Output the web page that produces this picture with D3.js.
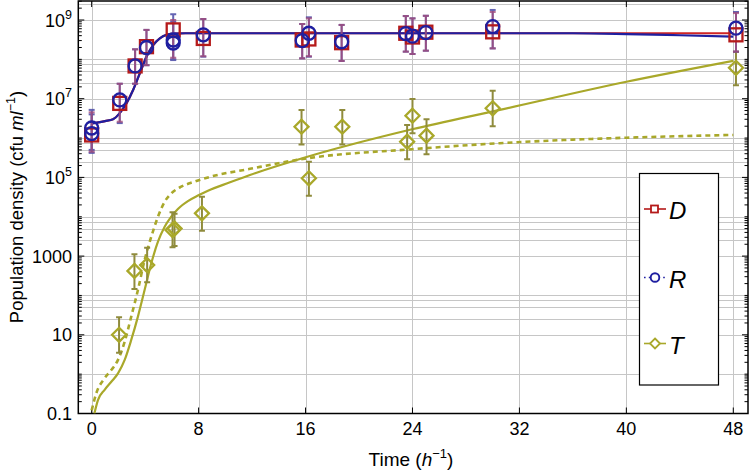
<!DOCTYPE html>
<html><head><meta charset="utf-8">
<script src="https://cdn.jsdelivr.net/npm/d3@7"></script>
<style>body{margin:0;background:#fff}svg{display:block}text{font-family:"Liberation Sans",Arial,sans-serif}</style>
</head><body><svg id="c" width="750" height="471"></svg>
<script>
// ---- data ----
const xTicks = [0, 8, 16, 24, 32, 40, 48];
const yTickVals = [0.1, 10, 1000, 1e5, 1e7, 1e9];
const yTickBase = ["0.1", "10", "1000", "10", "10", "10"];
const yTickSup = ["", "", "", "5", "7", "9"];
const gridYVals = [2.5e9, 1e9, 1e8, 7.5e7, 5e7, 2.5e7, 1e7, 1e6, 7.5e5, 5e5, 2.5e5, 1e5, 1e4, 7.5e3, 5e3, 2.5e3, 1e3, 100, 75, 50, 25, 10, 1];

// D (squares)
const dTime = [0, 2.1, 3.25, 4.1, 6.1, 8.35, 15.75, 16.25, 18.7, 23.5, 24.0, 25.0, 30.0, 48.2];
const dVal  = [1.2e6, 7.6e6, 6.8e7, 2.1e8, 5.6e8, 3.4e8, 3.1e8, 3.3e8, 2.65e8, 4.6e8, 3.7e8, 4.9e8, 5.0e8, 4.2e8];
const dLo   = [4.5e5, 2.6e6, 2.4e7, 7.1e7, 1.1e8, 1.2e8, 1.06e8, 1.2e8, 9.1e7, 1.57e8, 1.37e8, 1.66e8, 1.9e8, 1.57e8];
const dHi   = [4.5e6, 2.4e7, 1.8e8, 5.6e8, 1.0e9, 1.06e9, 7.9e8, 1.1e9, 7.5e8, 1.26e9, 1.1e9, 1.28e9, 1.6e9, 1.5e9];

// R (circles)
const rTime = [0, 0, 2.1, 3.25, 4.1, 6.1, 6.1, 8.35, 15.75, 16.25, 18.7, 23.5, 24.0, 25.0, 30.0, 48.2];
const rVal  = [1.8e6, 1.3e6, 9.3e6, 6.8e7, 2.0e8, 3.1e8, 2.6e8, 4.2e8, 3.0e8, 4.6e8, 2.8e8, 4.5e8, 3.9e8, 4.8e8, 6.8e8, 6.2e8];
const rLo   = [4.2e5, 5e5, 2.4e6, 2.4e7, 7.1e7, 9.6e7, 1e8, 1.17e8, 1.06e8, 1.17e8, 9.1e7, 1.57e8, 1.37e8, 1.66e8, 1.9e8, 1.57e8];
const rHi   = [5.2e6, 4e6, 2.4e7, 1.8e8, 5.6e8, 1.4e9, 9e8, 1.06e9, 7.9e8, 1.17e9, 7.5e8, 1.26e9, 1.1e9, 1.28e9, 1.8e9, 1.6e9];

// T (diamonds)
const tTime = [2.05, 3.2, 4.15, 6.05, 6.2, 8.25, 15.7, 16.25, 18.75, 23.6, 24.0, 25.05, 30.0, 48.2];
const tVal  = [10, 420, 590, 4600, 5000, 1.22e4, 1.94e6, 9.5e4, 1.94e6, 8.1e5, 3.7e6, 1.15e6, 5.7e6, 6.1e7];
const tLo   = [3.5, 146, 216, 1675, 1800, 4400, 6.9e5, 3.4e4, 6.9e5, 2.9e5, 1.32e6, 3.9e5, 2.0e6, 2.2e7];
const tHi   = [28, 1110, 1630, 1.3e4, 1.2e4, 3.2e4, 5.2e6, 2.5e5, 5.2e6, 2.15e6, 9.8e6, 3.0e6, 1.6e7, 1.57e8];

// fitted curves
const fitDTime = [0, 0.5, 1, 1.6, 2.1, 2.6, 3.1, 3.6, 4.1, 4.6, 5.1, 5.6, 6.1, 7, 8, 20, 36, 48];
const fitDVal  = [2.35e6, 2.5e6, 2.7e6, 3.0e6, 4.3e6, 7.6e6, 1.66e7, 4.4e7, 1.17e8, 2.3e8, 3.4e8, 4.2e8, 4.5e8, 4.6e8, 4.6e8, 4.6e8, 4.6e8, 4.6e8];
const fitRTime = [0, 0.5, 1, 1.6, 2.1, 2.6, 3.1, 3.6, 4.1, 4.6, 5.1, 5.6, 6.1, 7, 8, 20, 36, 40, 44, 48];
const fitRVal  = [2.35e6, 2.5e6, 2.7e6, 3.0e6, 4.3e6, 7.6e6, 1.66e7, 4.4e7, 1.17e8, 2.3e8, 3.4e8, 4.2e8, 4.5e8, 4.6e8, 4.6e8, 4.6e8, 4.6e8, 4.4e8, 4.1e8, 3.8e8];
const fitTSolidTime = [0.2, 0.47, 0.97, 1.47, 1.97, 2.47, 2.96, 3.46, 3.96, 4.46, 4.96, 5.46, 5.95, 6.45, 7.2, 7.95, 8.7, 10.3, 11.84, 15.95, 23.97, 30.53, 40, 48];
const fitTSolidVal  = [0.1, 0.22, 0.40, 0.64, 1.05, 2.3, 7.4, 29, 137, 656, 2320, 5580, 1.0e4, 1.58e4, 2.5e4, 3.45e4, 4.6e4, 7.4e4, 1.15e5, 3.2e5, 1.67e6, 5.2e6, 2.7e7, 9.2e7];
const fitTDashTime = [0, 0.35, 0.97, 1.47, 1.97, 2.47, 2.96, 3.46, 3.96, 4.46, 4.96, 5.46, 5.95, 6.7, 7.7, 8.7, 11.84, 15.95, 23.95, 30.53, 40, 48];
const fitTDashVal  = [0.12, 0.33, 0.79, 1.27, 2.3, 6.7, 29, 137, 794, 3110, 1e4, 2.4e4, 3.9e4, 5.8e4, 7.8e4, 1.0e5, 1.65e5, 3.0e5, 5.2e5, 7.4e5, 1.02e6, 1.2e6];

const legendNames = ["D", "R", "T"];

// ---- chart ----
const svg = d3.select("#c");
const L = 78.3, R = 748, T = 1, B = 413.5;
const x = d3.scaleLinear().domain([-1, 49.1]).range([L, R]);
const y = d3.scaleLog().domain([0.1, 3.04e9]).range([B, T]);

const cRed = "#b51a1a", cBlue = "#1f1fa0", cOlive = "#a9a82a", cOliveBar = "#8f8b3c";

svg.append("defs").append("clipPath").attr("id", "clip")
  .append("rect").attr("x", L).attr("y", T).attr("width", R - L).attr("height", B - T);

// grid
const grid = svg.append("g").attr("stroke", "#c6c6c6").attr("stroke-width", 1);
gridYVals.forEach(v => grid.append("line").attr("x1", L).attr("x2", R)
  .attr("y1", Math.round(y(v)) + 0.5).attr("y2", Math.round(y(v)) + 0.5));
xTicks.forEach(v => grid.append("line").attr("y1", T).attr("y2", B)
  .attr("x1", Math.round(x(v)) + 0.5).attr("x2", Math.round(x(v)) + 0.5));

// ticks
const ticks = svg.append("g").attr("stroke", "#000").attr("stroke-width", 1);
const minorY = [];
for (let k = -1; k <= 9; k++) {
  for (let j = 1; j <= 9; j++) {
    const v = j * Math.pow(10, k);
    if (v < 0.1 || v > 3.04e9) continue;
    if (j === 1 && yTickVals.some(t => Math.abs(t - v) / v < 1e-6)) continue;
    minorY.push(v);
  }
}
yTickVals.forEach(v => {
  ticks.append("line").attr("x1", L).attr("x2", L + 6).attr("y1", y(v)).attr("y2", y(v));
  ticks.append("line").attr("x1", R).attr("x2", R - 6).attr("y1", y(v)).attr("y2", y(v));
});
minorY.forEach(v => {
  ticks.append("line").attr("x1", L).attr("x2", L + 3.5).attr("y1", y(v)).attr("y2", y(v));
  ticks.append("line").attr("x1", R).attr("x2", R - 3.5).attr("y1", y(v)).attr("y2", y(v));
});
xTicks.forEach(v => {
  ticks.append("line").attr("x1", x(v)).attr("x2", x(v)).attr("y1", B).attr("y2", B - 6);
  ticks.append("line").attr("x1", x(v)).attr("x2", x(v)).attr("y1", T).attr("y2", T + 6);
});

// frame
svg.append("rect").attr("x", L).attr("y", T).attr("width", R - L).attr("height", B - T)
  .attr("fill", "none").attr("stroke", "#000").attr("stroke-width", 1.5);

// tick labels
xTicks.forEach(v => svg.append("text").attr("x", x(v)).attr("y", 434.5).attr("text-anchor", "middle")
  .attr("font-size", 18).text(v));
yTickVals.forEach((v, i) => {
  const t = svg.append("text").attr("x", 72).attr("y", y(v) + 6.5).attr("text-anchor", "end").attr("font-size", 18);
  t.append("tspan").text(yTickBase[i]);
  if (yTickSup[i]) t.append("tspan").attr("font-size", 12.5).attr("dy", -8).text(yTickSup[i]);
});

// axis titles
const xt = svg.append("text").attr("x", 411).attr("y", 466).attr("text-anchor", "middle").attr("font-size", 19);
xt.append("tspan").text("Time (");
xt.append("tspan").attr("font-style", "italic").text("h");
xt.append("tspan").attr("font-size", 13).attr("dy", -8).text("\u22121");
xt.append("tspan").attr("dy", 8).text(")");

const yt = svg.append("text").attr("transform", "translate(23,207) rotate(-90)").attr("text-anchor", "middle").attr("font-size", 18.5);
yt.append("tspan").text("Population density (cfu ");
yt.append("tspan").attr("font-style", "italic").text("ml");
yt.append("tspan").attr("font-size", 12.5).attr("dy", -8).text("\u22121");
yt.append("tspan").attr("dy", 8).text(")");

// curves
const plot = svg.append("g").attr("clip-path", "url(#clip)");
const line = d3.line().x(d => x(d[0])).y(d => y(d[1])).curve(d3.curveMonotoneX);
const zipP = (a, b) => a.map((v, i) => [v, b[i]]);
plot.append("path").attr("d", line(zipP(fitTDashTime, fitTDashVal))).attr("fill", "none")
  .attr("stroke", cOlive).attr("stroke-width", 2.6).attr("stroke-dasharray", "5,4");
plot.append("path").attr("d", line(zipP(fitTSolidTime, fitTSolidVal))).attr("fill", "none")
  .attr("stroke", cOlive).attr("stroke-width", 2.2);
plot.append("path").attr("d", line(zipP(fitDTime, fitDVal))).attr("fill", "none")
  .attr("stroke", "#d02424").attr("stroke-width", 2.2);
plot.append("path").attr("d", line(zipP(fitRTime, fitRVal))).attr("fill", "none")
  .attr("stroke", cBlue).attr("stroke-width", 2.2);

// error bars
function errBars(times, lo, hi, color, op) {
  const g = plot.append("g").attr("stroke", color).attr("stroke-width", 2).attr("opacity", op);
  times.forEach((t, i) => {
    const cx = x(t);
    g.append("line").attr("x1", cx).attr("x2", cx).attr("y1", y(lo[i])).attr("y2", y(hi[i]));
    g.append("line").attr("x1", cx - 3).attr("x2", cx + 3).attr("y1", y(lo[i])).attr("y2", y(lo[i]));
    g.append("line").attr("x1", cx - 3).attr("x2", cx + 3).attr("y1", y(hi[i])).attr("y2", y(hi[i]));
  });
}
errBars(tTime, tLo, tHi, cOliveBar, 1);
errBars(rTime, rLo, rHi, "#4a4aa6", 0.85);
errBars(dTime, dLo, dHi, "#a24a7a", 0.8);

// markers
const mk = plot.append("g").attr("fill", "none");
tTime.forEach((t, i) => {
  const cx = x(t), cy = y(tVal[i]), h = 7;
  mk.append("path").attr("d", `M${cx},${cy - h}L${cx + h},${cy}L${cx},${cy + h}L${cx - h},${cy}Z`)
    .attr("stroke", cOlive).attr("stroke-width", 2.3);
});
dTime.forEach((t, i) => {
  mk.append("rect").attr("x", x(t) - 6.5).attr("y", y(dVal[i]) - 6.5).attr("width", 13).attr("height", 13)
    .attr("stroke", cRed).attr("stroke-width", 2.3);
});
rTime.forEach((t, i) => {
  mk.append("circle").attr("cx", x(t)).attr("cy", y(rVal[i])).attr("r", 6.5)
    .attr("stroke", cBlue).attr("stroke-width", 2.3);
});

// legend
const lg = svg.append("g");
lg.append("rect").attr("x", 639.5).attr("y", 173.5).attr("width", 79).attr("height", 211.5)
  .attr("fill", "#fff").attr("stroke", "#000").attr("stroke-width", 1.2);
const lgY = [209, 277.5, 343.5];
const lgCol = [cRed, cBlue, cOlive];
legendNames.forEach((n, i) => {
  const cy = lgY[i];
  const ln = lg.append("line").attr("x1", 644).attr("x2", 666).attr("y1", cy).attr("y2", cy)
    .attr("stroke", lgCol[i]).attr("stroke-width", 1.6);
  if (i === 1) ln.attr("stroke-dasharray", "1.6,3.2");
  if (i === 0) lg.append("rect").attr("x", 651).attr("y", cy - 3.5).attr("width", 7).attr("height", 7)
    .attr("fill", "#fff").attr("stroke", cRed).attr("stroke-width", 1.8);
  if (i === 1) lg.append("circle").attr("cx", 655).attr("cy", cy).attr("r", 4.3)
    .attr("fill", "#fff").attr("stroke", cBlue).attr("stroke-width", 1.9);
  if (i === 2) lg.append("path").attr("d", `M655,${cy - 5}L660,${cy}L655,${cy + 5}L650,${cy}Z`)
    .attr("fill", "#fff").attr("stroke", cOlive).attr("stroke-width", 1.8);
  lg.append("text").attr("x", 669).attr("y", cy + 10).attr("font-size", 24).attr("font-style", "italic").text(n);
});
</script></body></html>
